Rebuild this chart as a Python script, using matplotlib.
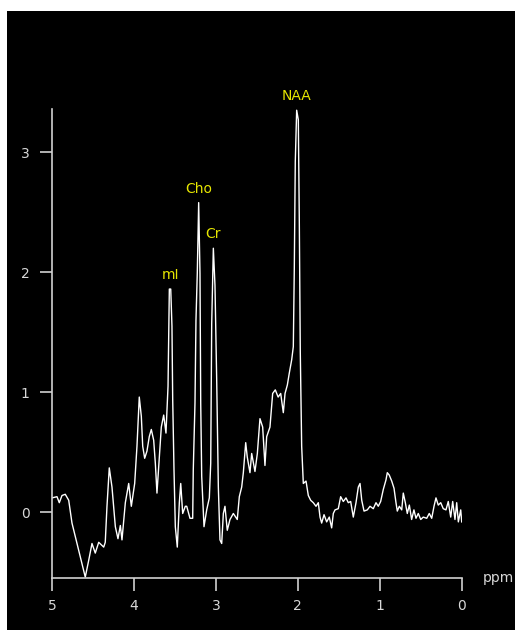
import numpy as np
import matplotlib.pyplot as plt
from matplotlib.patches import Rectangle

# chemical shift (ppm) and signal intensity of the spectrum
ppm = [5.000, 4.939, 4.911, 4.878, 4.838, 4.796, 4.756, 4.695, 4.634, 4.594,
       4.552, 4.512, 4.472, 4.430, 4.369, 4.350, 4.329, 4.301, 4.268, 4.227,
       4.195, 4.166, 4.146, 4.105, 4.064, 4.032, 3.991, 3.963, 3.935, 3.910,
       3.893, 3.869, 3.841, 3.813, 3.788, 3.759, 3.739, 3.719, 3.690, 3.666,
       3.637, 3.609, 3.584, 3.568, 3.551, 3.536, 3.527, 3.511, 3.495, 3.471,
       3.446, 3.429, 3.405, 3.373, 3.356, 3.316, 3.283, 3.276, 3.255, 3.243,
       3.227, 3.210, 3.194, 3.185, 3.173, 3.145, 3.112, 3.080, 3.063, 3.051,
       3.031, 3.011, 2.990, 2.970, 2.950, 2.929, 2.909, 2.889, 2.861, 2.828,
       2.787, 2.739, 2.714, 2.685, 2.665, 2.636, 2.617, 2.584, 2.563, 2.523,
       2.494, 2.462, 2.429, 2.401, 2.380, 2.340, 2.307, 2.275, 2.240, 2.209,
       2.177, 2.156, 2.128, 2.104, 2.075, 2.055, 2.043, 2.031, 2.014, 1.994,
       1.982, 1.970, 1.953, 1.933, 1.900, 1.872, 1.843, 1.811, 1.778, 1.750,
       1.729, 1.709, 1.680, 1.648, 1.616, 1.587, 1.567, 1.546, 1.506, 1.477,
       1.445, 1.412, 1.384, 1.355, 1.323, 1.290, 1.262, 1.241, 1.220, 1.192,
       1.152, 1.119, 1.079, 1.046, 1.018, 0.989, 0.957, 0.924, 0.908, 0.884,
       0.854, 0.826, 0.802, 0.786, 0.761, 0.732, 0.713, 0.688, 0.664, 0.639,
       0.611, 0.583, 0.558, 0.530, 0.500, 0.469, 0.427, 0.396, 0.366, 0.338,
       0.314, 0.286, 0.256, 0.225, 0.192, 0.164, 0.134, 0.110, 0.082, 0.061,
       0.041, 0.012, 0.000]
signal = [0.12, 0.13, 0.08, 0.14, 0.15, 0.10, -0.09, -0.26, -0.43, -0.54,
          -0.40, -0.26, -0.34, -0.25, -0.29, -0.25, 0.05, 0.37, 0.21, -0.12,
          -0.22, -0.11, -0.23, 0.08, 0.24, 0.05, 0.24, 0.55, 0.96, 0.80,
          0.55, 0.45, 0.51, 0.63, 0.69, 0.60, 0.41, 0.16, 0.46, 0.71,
          0.81, 0.66, 1.05, 1.86, 1.86, 1.55, 0.94, 0.35, -0.12, -0.29,
          0.08, 0.24, -0.01, 0.05, 0.05, -0.05, -0.05, 0.35, 0.91, 1.60,
          1.99, 2.58, 1.99, 0.91, 0.30, -0.12, 0.02, 0.12, 0.41, 1.57,
          2.20, 1.89, 1.10, 0.21, -0.23, -0.26, -0.01, 0.05, -0.15, -0.06,
          -0.01, -0.06, 0.13, 0.21, 0.33, 0.58, 0.46, 0.33, 0.49, 0.34,
          0.49, 0.78, 0.71, 0.39, 0.63, 0.71, 0.99, 1.02, 0.96, 0.99,
          0.83, 0.99, 1.06, 1.16, 1.27, 1.38, 2.03, 2.92, 3.35, 3.27,
          2.44, 1.34, 0.55, 0.24, 0.26, 0.14, 0.10, 0.08, 0.05, 0.08,
          -0.04, -0.09, -0.02, -0.08, -0.04, -0.13, -0.01, 0.02, 0.03, 0.13,
          0.09, 0.12, 0.08, 0.09, -0.04, 0.08, 0.21, 0.24, 0.10, 0.01,
          0.02, 0.05, 0.03, 0.08, 0.05, 0.09, 0.19, 0.27, 0.33, 0.31,
          0.26, 0.20, 0.08, 0.01, 0.05, 0.02, 0.16, 0.08, -0.01, 0.06,
          -0.06, 0.02, -0.05, -0.01, -0.06, -0.04, -0.05, -0.01, -0.05, 0.05,
          0.12, 0.06, 0.08, 0.03, 0.02, 0.09, -0.04, 0.09, -0.06, 0.08,
          -0.08, 0.02, -0.08]

# metabolite labels and the peaks they sit on
metabolites = ['mI', 'Cho', 'Cr', 'NAA']
peak_ppm = [3.551, 3.210, 3.031, 2.014]
peak_val = [1.86, 2.58, 2.20, 3.35]

xticks = [5, 4, 3, 2, 1, 0]
yticks = [0, 1, 2, 3]

fig = plt.figure(figsize=(5.15, 6.3), dpi=100, facecolor='white')
# black panel, leaving a thin white margin at top and left
fig.patches.append(Rectangle((7 / 515, 0), 1, 1 - 11 / 630, transform=fig.transFigure,
                             facecolor='black', edgecolor='none', zorder=-10))

ax = fig.add_axes([52 / 515, 1 - 577.7 / 630, (461.7 - 52) / 515, (577.7 - 109) / 630])
ax.set_zorder(5)
ax.set_facecolor('black')
ax.plot(ppm, signal, color='white', lw=1.0)

ax.set_xlim(5, 0)
ax.set_ylim(-0.545, 3.36)
ax.set_xticks(xticks)
ax.set_yticks(yticks)
ax.set_xticklabels([str(t) for t in xticks])
ax.set_yticklabels([str(t) for t in yticks])

for side in ['top', 'right']:
    ax.spines[side].set_visible(False)
for side in ['left', 'bottom']:
    ax.spines[side].set_color('#d0d0d0')
    ax.spines[side].set_linewidth(1.2)
ax.tick_params(axis='both', colors='#d0d0d0', labelcolor='#d8d8d8', length=9, width=1.2,
               labelsize=10)
ax.tick_params(axis='y', pad=7)
ax.tick_params(axis='x', pad=6)

for name, px, pv in zip(metabolites, peak_ppm, peak_val):
    ax.annotate(name, (px, pv), xytext=(0, 10), textcoords='offset points',
                ha='center', va='center', color='#e6e600', fontsize=10)

ax.annotate('ppm', (1, 0), xycoords='axes fraction', xytext=(15, 0),
            textcoords='offset points', ha='left', va='center',
            color='#d8d8d8', fontsize=10, annotation_clip=False)

fig.savefig('out.png', dpi=100, facecolor=fig.get_facecolor())
